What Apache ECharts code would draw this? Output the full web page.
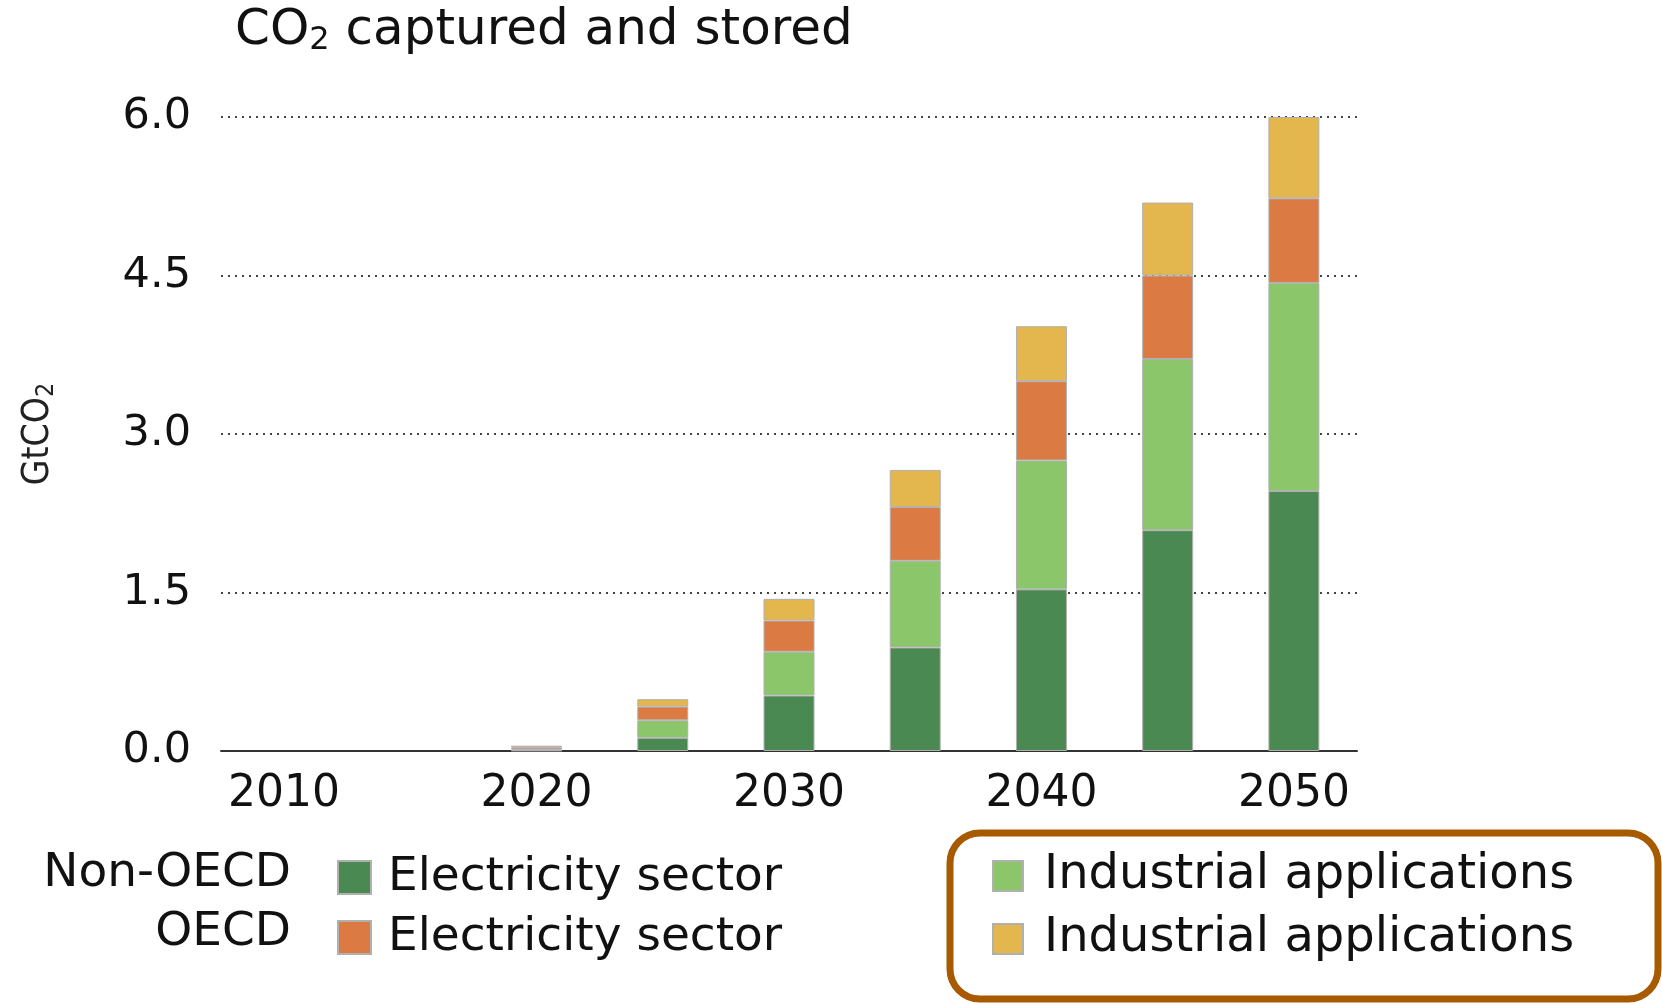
<!DOCTYPE html>
<html>
<head>
<meta charset="utf-8">
<script src="https://cdn.jsdelivr.net/npm/echarts@6/dist/echarts.min.js"></script>
<style>
    html, body { margin: 0; padding: 0; background: #fff; }
    #chart { width: 1662px; height: 1003px; }
</style>
</head>
<body>
<div id="chart"></div>
<script>
    // years on the category axis (every 5 years, label every 10)
    const years = ['2010', '2015', '2020', '2025', '2030', '2035', '2040', '2045', '2050'];
    // GtCO2 per segment, stacked bottom to top
    const nonOecdElectricity = [0, 0, 0.005, 0.125, 0.525, 0.98, 1.53, 2.09, 2.46];
    const nonOecdIndustry = [0, 0, 0.01, 0.165, 0.415, 0.82, 1.22, 1.62, 1.97];
    const oecdElectricity = [0, 0, 0.02, 0.13, 0.295, 0.51, 0.75, 0.79, 0.80];
    const oecdIndustry = [0, 0, 0.015, 0.07, 0.205, 0.35, 0.52, 0.69, 0.77];
    const yTicks = [0, 1.5, 3.0, 4.5, 6.0];

    const FONT = 'DejaVu Sans';
    const chart = echarts.init(document.getElementById('chart'));

    const barSeries = (name, data, color) => ({
        name: name,
        type: 'bar',
        stack: 'total',
        barWidth: 51,
        // empty years draw nothing (no border sliver)
        data: data.map(v => v === 0 ? '-' : v),
        itemStyle: {
            color: color,
            borderColor: '#b0b0b0',
            borderWidth: 1
        }
    });

    chart.setOption({
        animation: false,
        title: {
            text: '{a|CO}{s|2}{a| captured and stored}',
            left: 230,
            top: 0,
            textStyle: {
                fontWeight: 'normal',
                rich: {
                    a: { fontFamily: FONT, fontSize: 50, fontWeight: 'normal', color: '#111', lineHeight: 52 },
                    s: { fontFamily: FONT, fontSize: 32, fontWeight: 'normal', color: '#111', lineHeight: 36, verticalAlign: 'bottom' }
                }
            }
        },
        grid: {
            left: 221,
            right: 305,
            top: 117,
            bottom: 252
        },
        xAxis: {
            type: 'category',
            data: years,
            axisTick: { show: false },
            axisLine: { lineStyle: { color: '#333', width: 2 } },
            axisLabel: {
                interval: 1,
                margin: 22,
                fontFamily: FONT,
                fontSize: 44,
                color: '#111'
            }
        },
        yAxis: {
            type: 'value',
            min: yTicks[0],
            max: yTicks[yTicks.length - 1],
            interval: 1.5,
            name: '{a|GtCO}{s|2}',
            nameLocation: 'middle',
            nameGap: 162,
            nameTextStyle: {
                rich: {
                    a: { fontFamily: 'DejaVu Sans Condensed', fontSize: 37, color: '#222', lineHeight: 42 },
                    s: { fontFamily: 'DejaVu Sans Condensed', fontSize: 25, color: '#222', lineHeight: 30, verticalAlign: 'bottom' }
                }
            },
            axisLine: { show: false },
            axisTick: { show: false },
            axisLabel: {
                margin: 30,
                fontFamily: FONT,
                fontSize: 43,
                color: '#111',
                formatter: (v) => v.toFixed(1)
            },
            splitLine: {
                lineStyle: { color: '#444', width: 2, type: [2, 5] }
            }
        },
        legend: [
            {
                data: ['Non-OECD Electricity sector', 'OECD Electricity sector'],
                orient: 'vertical',
                left: 332,
                top: 849,
                icon: 'rect',
                itemWidth: 33,
                itemHeight: 33,
                itemGap: 13,
                selectedMode: false,
                formatter: () => 'Electricity sector',
                textStyle: { fontFamily: FONT, fontSize: 47, lineHeight: 34, color: '#111', padding: [0, 0, 0, 12] }
            },
            {
                data: ['Non-OECD Industrial applications', 'OECD Industrial applications'],
                orient: 'vertical',
                left: 987,
                top: 847,
                icon: 'rect',
                itemWidth: 30,
                itemHeight: 30,
                itemGap: 15,
                selectedMode: false,
                formatter: () => 'Industrial applications',
                textStyle: { fontFamily: FONT, fontSize: 48, lineHeight: 31, color: '#111', padding: [0, 0, 0, 16] }
            }
        ],
        graphic: [
            {
                type: 'text',
                x: 291,
                y: 874,
                style: { text: 'Non-OECD', fontFamily: FONT, fontSize: 47, fill: '#111', align: 'right', verticalAlign: 'middle' }
            },
            {
                type: 'text',
                x: 291,
                y: 933,
                style: { text: 'OECD', fontFamily: FONT, fontSize: 47, fill: '#111', align: 'right', verticalAlign: 'middle' }
            },
            {
                type: 'rect',
                shape: { x: 950, y: 833, width: 708, height: 166, r: 30 },
                style: { fill: 'none', stroke: '#a85a00', lineWidth: 7 }
            }
        ],
        series: [
            barSeries('Non-OECD Electricity sector', nonOecdElectricity, '#4a8a52'),
            barSeries('Non-OECD Industrial applications', nonOecdIndustry, '#8cc66a'),
            barSeries('OECD Electricity sector', oecdElectricity, '#db7b43'),
            barSeries('OECD Industrial applications', oecdIndustry, '#e4b64e')
        ]
    });
</script>
</body>
</html>
